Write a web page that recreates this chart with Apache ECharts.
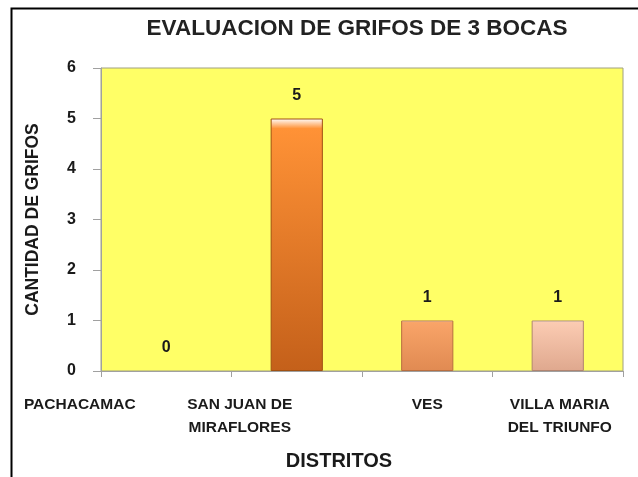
<!DOCTYPE html>
<html>
<head>
<meta charset="utf-8">
<script src="https://cdn.jsdelivr.net/npm/echarts@6/dist/echarts.min.js"></script>
<style>
html,body{margin:0;padding:0;background:#fff;}
#c{width:638px;height:477px;}
</style>
</head>
<body>
<div id="c"></div>
<script>
var categories = ['PACHACAMAC', 'SAN JUAN DE\nMIRAFLORES', 'VES', 'VILLA MARIA\nDEL TRIUNFO'];
var values = [0, 5, 1, 1];
var yTicks = [0, 1, 2, 3, 4, 5, 6];
var titleText = 'EVALUACION DE GRIFOS DE 3 BOCAS';
var yName = 'CANTIDAD DE GRIFOS';
var xName = 'DISTRITOS';

var FONT = '"Liberation Sans", Arial, sans-serif';
var barStyles = [
  ['#FF9A3C', '#C8641E', '#A85414'],
  ['#FF9236', '#C4601A', '#A05012'],
  ['#F9A468', '#E08A52', '#B86E40'],
  ['#FBCBB2', '#DFA88E', '#B08470']
];

function catStyle(extra) {
  var s = { fontFamily: FONT, fontSize: 15.5, fontWeight: 'bold', color: '#1a1a1a', lineHeight: 23 };
  for (var k in extra) s[k] = extra[k];
  return s;
}

var chart = echarts.init(document.getElementById('c'));
chart.setOption({
  backgroundColor: '#fff',
  animation: false,
  title: {
    text: titleText,
    left: 352, top: 12, textAlign: 'center',
    textStyle: { fontFamily: FONT, fontSize: 22.5, fontWeight: 'bold', color: '#222' }
  },
  graphic: [{
    type: 'polyline',
    shape: { points: [[11.5, 477], [11.5, 8.5], [638, 8.5]] },
    style: { stroke: '#000', lineWidth: 2, fill: null }
  }],
  grid: { left: 101, top: 68, right: 15, bottom: 106, outerBoundsMode: 'none', containLabel: false, show: true, backgroundColor: '#FFFF66', borderColor: '#A0A080', borderWidth: 1 },
  xAxis: {
    type: 'category',
    data: categories,
    name: xName,
    nameLocation: 'middle',
    nameGap: 80,
    nameTextStyle: { fontFamily: FONT, fontSize: 20, fontWeight: 'bold', color: '#1a1a1a', padding: [0, 46, 0, 0] },
    axisLine: { lineStyle: { color: '#A0A0A0' } },
    axisTick: { show: true, length: 6, lineStyle: { color: '#A0A0A0' } },
    axisLabel: {
      interval: 0, margin: 22,
      formatter: function (v, i) {
        return v.split('\n').map(function (s) { return '{s' + i + '|' + s + '}'; }).join('\n');
      },
      rich: {
        s0: catStyle({ padding: [0, 173, 0, 0] }),
        s1: catStyle({ padding: [0, 114, 0, 0] }),
        s2: catStyle({}),
        s3: catStyle({ padding: [0, 0, 0, 4] })
      }
    }
  },
  yAxis: {
    type: 'value',
    min: yTicks[0], max: yTicks[yTicks.length - 1], interval: 1,
    name: yName,
    nameLocation: 'middle',
    nameGap: 59,
    nameTextStyle: { fontFamily: FONT, fontSize: 17.5, fontWeight: 'bold', color: '#1a1a1a' },
    axisLine: { show: true, lineStyle: { color: '#A0A0A0' } },
    axisTick: { show: true, length: 8, lineStyle: { color: '#A0A0A0' } },
    splitLine: { show: false },
    axisLabel: { margin: 25, fontFamily: FONT, fontSize: 16, fontWeight: 'bold', color: '#1a1a1a' }
  },
  series: [{
    type: 'bar',
    barWidth: '40%',
    data: values.map(function (v, i) {
      var c = barStyles[i];
      return {
        value: v,
        itemStyle: {
          color: new echarts.graphic.LinearGradient(0, 0, 0, 1, [
            { offset: 0, color: '#FFFFFF' },
            { offset: 0.04, color: c[0] },
            { offset: 1, color: c[1] }
          ]),
          borderColor: c[2], borderWidth: v === 0 ? 0 : 1
        }
      };
    }),
    label: { show: true, position: 'top', distance: 15, fontFamily: FONT, fontSize: 16, fontWeight: 'bold', color: '#1a1a1a' }
  }]
});
</script>
</body>
</html>
